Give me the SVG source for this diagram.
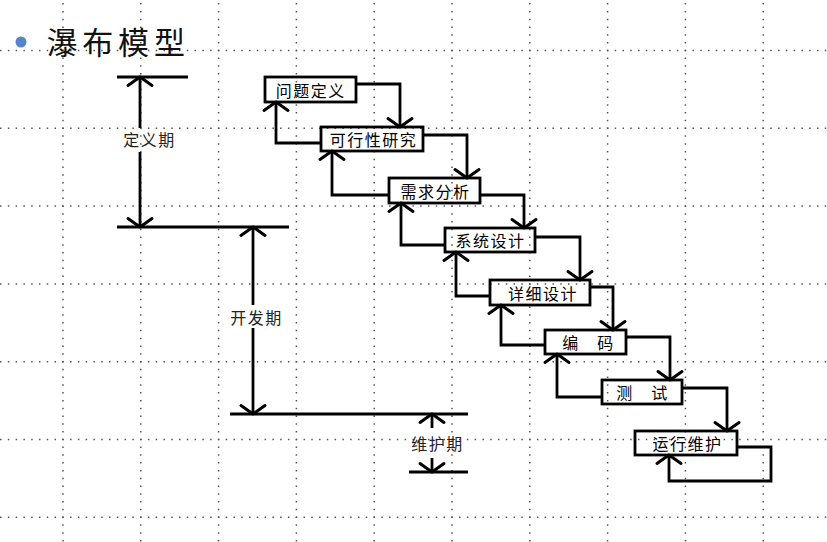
<svg xmlns="http://www.w3.org/2000/svg" width="827" height="542" viewBox="0 0 827 542">
  <style>
    .grid { stroke: #555; stroke-width: 1.5; stroke-dasharray: 1.5 6.28; fill: none; }
    .box { fill: none; stroke: #000; stroke-width: 2.8; }
    .lbl { font-family: "Noto Sans CJK SC", "Noto Sans", sans-serif; font-size: 16px; letter-spacing: 1.5px; fill: #000; text-anchor: middle; dominant-baseline: central; }
    .ph { font-family: "Noto Sans CJK SC", "Noto Sans", sans-serif; font-size: 16px; letter-spacing: 1.5px; fill: #222; text-anchor: middle; dominant-baseline: central; }
    .conn { fill: none; stroke: #000; stroke-width: 2.8; stroke-linejoin: miter; }
    .title { font-family: "Noto Sans CJK SC", "Noto Sans", sans-serif; font-size: 31px; letter-spacing: 4.8px; fill: #111; dominant-baseline: central; }
  </style>
  <defs>
    <marker id="ah" markerUnits="userSpaceOnUse" markerWidth="30" markerHeight="30" viewBox="-15 -15 30 30" refX="0" refY="0" orient="auto" overflow="visible">
      <path d="M-8.5,-12 Q-3.5,-5 0,0 Q-3.5,5 -8.5,12" fill="none" stroke="#000" stroke-width="3" stroke-linecap="round" stroke-linejoin="round"/>
    </marker>
  </defs>
  <rect width="827" height="542" fill="#fff"/>
  <g id="grid">
    <path class="grid" d="M63,3.1V542 M140.8,3.1V542 M218.6,3.1V542 M296.4,3.1V542 M374.2,3.1V542 M452,3.1V542 M529.8,3.1V542 M607.6,3.1V542 M685.4,3.1V542 M763.2,3.1V542"/>
    <path class="grid" d="M0.06,50.5H827 M0.06,128.3H827 M0.06,206.1H827 M0.06,283.9H827 M0.06,361.7H827 M0.06,439.5H827 M0.06,517.3H827"/>
  </g>
  <g id="title">
    <circle cx="21" cy="42" r="5.5" fill="#5585c5"/>
    <text class="title" x="46.5" y="40">瀑布模型</text>
  </g>
  <g id="phases">
    <path class="conn" d="M117,77H188 M117,227H289 M230,414H468 M409,472H468"/>
    <path class="conn" d="M140,128V77" marker-end="url(#ah)"/>
    <path class="conn" d="M140,152V227" marker-end="url(#ah)"/>
    <text class="ph" x="149.5" y="139">定义期</text>
    <path class="conn" d="M253,305V227" marker-end="url(#ah)"/>
    <path class="conn" d="M253,328V414" marker-end="url(#ah)"/>
    <text class="ph" x="256.5" y="317">开发期</text>
    <path class="conn" d="M432,428V414" marker-end="url(#ah)"/>
    <path class="conn" d="M432,458V472" marker-end="url(#ah)"/>
    <text class="ph" x="437.5" y="443">维护期</text>
  </g>
  <g id="connectors">
    <path class="conn" d="M356,84H400V127" marker-end="url(#ah)"/>
    <path class="conn" d="M321,143H276V102" marker-end="url(#ah)"/>
    <path class="conn" d="M423,135H467V178" marker-end="url(#ah)"/>
    <path class="conn" d="M389,195H332V151" marker-end="url(#ah)"/>
    <path class="conn" d="M480,195H524V228" marker-end="url(#ah)"/>
    <path class="conn" d="M445,245H401V203" marker-end="url(#ah)"/>
    <path class="conn" d="M535,237H580V280" marker-end="url(#ah)"/>
    <path class="conn" d="M490,296H456V252" marker-end="url(#ah)"/>
    <path class="conn" d="M590,287H613V330" marker-end="url(#ah)"/>
    <path class="conn" d="M545,345H501V305" marker-end="url(#ah)"/>
    <path class="conn" d="M626,337H670V380" marker-end="url(#ah)"/>
    <path class="conn" d="M602,397H557V354" marker-end="url(#ah)"/>
    <path class="conn" d="M682,388H727V431" marker-end="url(#ah)"/>
    <path class="conn" d="M737,447H771V481H669V455" marker-end="url(#ah)"/>
  </g>
  <g id="n1"><rect class="box" x="265" y="77" width="91" height="25"/><text class="lbl" x="310.75" y="89.5">问题定义</text></g>
  <g id="n2"><rect class="box" x="321" y="127" width="102" height="24"/><text class="lbl" x="373.5" y="139">可行性研究</text></g>
  <g id="n3"><rect class="box" x="389" y="178" width="91" height="25"/><text class="lbl" x="435.5" y="190.5">需求分析</text></g>
  <g id="n4"><rect class="box" x="445" y="228" width="90" height="24"/><text class="lbl" x="490.5" y="240">系统设计</text></g>
  <g id="n5"><rect class="box" x="490" y="280" width="100" height="25"/><text class="lbl" x="543" y="292.5">详细设计</text></g>
  <g id="n6"><rect class="box" x="545" y="330" width="81" height="24"/><text class="lbl" x="588.5" y="342">编　码</text></g>
  <g id="n7"><rect class="box" x="602" y="380" width="80" height="24"/><text class="lbl" x="642.5" y="392">测　试</text></g>
  <g id="n8"><rect class="box" x="635" y="431" width="102" height="24"/><text class="lbl" x="687.5" y="443">运行维护</text></g>
</svg>
